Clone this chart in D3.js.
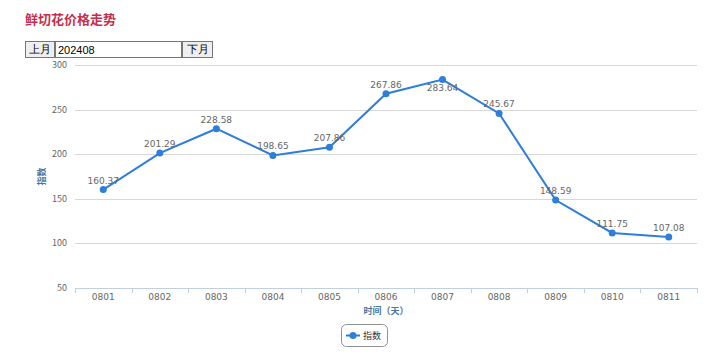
<!DOCTYPE html>
<html>
<head>
<meta charset="utf-8">
<script src="https://cdn.jsdelivr.net/npm/d3@7"></script>
<style>
  body { margin: 0; background: #fff; font-family: "Noto Sans CJK SC", "DejaVu Sans", sans-serif; }
  #title { position: absolute; left: 25px; top: 9px; font-size: 13px; font-weight: bold; color: #c4304c; }
  .ctrl { position: absolute; top: 41px; height: 17px; box-sizing: border-box; font-size: 11px; padding: 0 3px; }
  button.ctrl { background: #efefef; border: 1px solid #767676; }
  input.ctrl { border: 1px solid #767676; padding: 0 2px; font-family: Arial, "Liberation Sans", sans-serif; }
  #chart { position: absolute; left: 0; top: 0; }
</style>
</head>
<body>
<div id="title">鲜切花价格走势</div>
<svg id="chart" width="722" height="359"></svg>
<button class="ctrl" style="left:25px;width:30px">上月</button>
<input class="ctrl" style="left:55px;width:127px" value="202408">
<button class="ctrl" style="left:182px;width:31px">下月</button>
<script>
var days = ["0801", "0802", "0803", "0804", "0805", "0806", "0807", "0808", "0809", "0810", "0811"];
var values = [160.37, 201.29, 228.58, 198.65, 207.86, 267.86, 283.64, 245.67, 148.59, 111.75, 107.08];
var yTicks = [50, 100, 150, 200, 250, 300];
var seriesName = "指数";

var svg = d3.select("#chart"),
  margin = { top: 65, right: 25, bottom: 71, left: 75 };

var width = 722 - margin.left - margin.right,
  height = 359 - margin.top - margin.bottom;

var color = "#2f7ed8";

var x = d3.scaleBand().domain(days).range([0, width]),
  y = d3.scaleLinear().domain([50, 300]).range([height, 0]);

var g = svg.append("g")
  .attr("transform", "translate(" + margin.left + "," + margin.top + ")");

// grid
g.append("g")
  .selectAll("line")
  .data(yTicks)
  .enter().append("line")
  .attr("x1", 0).attr("x2", width)
  .attr("y1", function(d) { return Math.round(y(d)) + 0.5; })
  .attr("y2", function(d) { return Math.round(y(d)) + 0.5; })
  .attr("stroke", "#d8d8d8");

// y labels
g.append("g")
  .selectAll("text")
  .data(yTicks)
  .enter().append("text")
  .attr("x", -8)
  .attr("y", function(d) { return y(d) + 3; })
  .attr("text-anchor", "end")
  .attr("font-size", "9px")
  .attr("fill", "#666")
  .text(function(d) { return d; });

// x axis
var xAxis = g.append("g")
  .attr("transform", "translate(0," + height + ")")
  .call(d3.axisBottom(x).tickSize(0).tickPadding(6));
xAxis.select(".domain").attr("stroke", "#c0d0e0");
xAxis.selectAll("text").attr("font-size", "9px").attr("fill", "#666")
  .attr("font-family", "'DejaVu Sans', sans-serif");

xAxis.selectAll(".sep")
  .data(days.concat(["end"]))
  .enter().append("line")
  .attr("class", "sep")
  .attr("x1", function(d, i) { return Math.round(i * x.step()) + 0.5; })
  .attr("x2", function(d, i) { return Math.round(i * x.step()) + 0.5; })
  .attr("y1", 0).attr("y2", 5)
  .attr("stroke", "#c0d0e0");

// axis titles
svg.append("text")
  .attr("transform", "translate(45," + (margin.top + height / 2) + ") rotate(-90)")
  .attr("text-anchor", "middle")
  .attr("font-size", "9px")
  .attr("font-weight", "bold")
  .attr("fill", "#4d759e")
  .text("指数");

svg.append("text")
  .attr("x", margin.left + width / 2)
  .attr("y", margin.top + height + 26)
  .attr("text-anchor", "middle")
  .attr("font-size", "9px")
  .attr("font-weight", "bold")
  .attr("fill", "#4d759e")
  .text("时间（天）");

// line
var line = d3.line()
  .x(function(d, i) { return x(days[i]) + x.bandwidth() / 2; })
  .y(function(d) { return y(d); });

g.append("path")
  .datum(values)
  .attr("d", line)
  .attr("fill", "none")
  .attr("stroke", color)
  .attr("stroke-width", 2);

g.selectAll(".dot")
  .data(values)
  .enter().append("circle")
  .attr("class", "dot")
  .attr("cx", function(d, i) { return x(days[i]) + x.bandwidth() / 2; })
  .attr("cy", function(d) { return y(d); })
  .attr("r", 3.5)
  .attr("fill", color);

// labels go above the point, or below it if they would leave the plot
g.selectAll(".lbl")
  .data(values)
  .enter().append("text")
  .attr("class", "lbl")
  .attr("x", function(d, i) { return x(days[i]) + x.bandwidth() / 2; })
  .attr("y", function(d) {
    var ly = y(d) - 6;
    return ly - 9 < 0 ? y(d) + 11 : ly;
  })
  .attr("text-anchor", "middle")
  .attr("font-size", "9px")
  .attr("font-family", "'DejaVu Sans', sans-serif")
  .attr("fill", "#666")
  .text(function(d) { return d.toFixed(2); });

// legend
var lg = svg.append("g").attr("transform", "translate(341,324)");
lg.append("rect")
  .attr("x", 0.5).attr("y", 0.5)
  .attr("width", 46).attr("height", 22)
  .attr("rx", 5)
  .attr("fill", "#fff")
  .attr("stroke", "#909090");
lg.append("line")
  .attr("x1", 5).attr("x2", 19).attr("y1", 11.5).attr("y2", 11.5)
  .attr("stroke", color).attr("stroke-width", 2);
lg.append("circle")
  .attr("cx", 12).attr("cy", 11.5).attr("r", 3.5).attr("fill", color);
lg.append("text")
  .attr("x", 22).attr("y", 15)
  .attr("font-size", "9px")
  .attr("fill", "#333")
  .text(seriesName);
</script>
</body>
</html>
